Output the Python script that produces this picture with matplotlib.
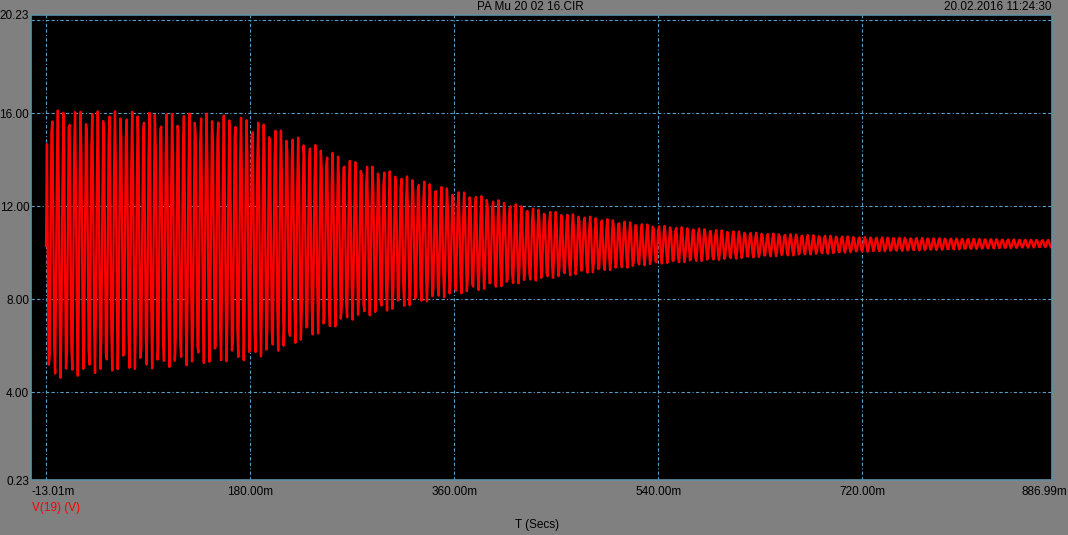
import numpy as np
import matplotlib
matplotlib.use("Agg")
import matplotlib.pyplot as plt

plt.rcParams['font.family'] = ['Liberation Sans', 'DejaVu Sans']

# envelope of the oscillation (t in ms, volts)
t_knots = [0, 10, 48, 136, 180, 206, 268, 360, 436, 533, 630, 718, 887]
upper = [16.1, 16.15, 16.1, 16.0, 15.8, 15.3, 14.0, 12.7, 11.85, 11.2, 10.85, 10.68, 10.55]
lower = [4.7, 4.6, 4.85, 5.2, 5.4, 5.8, 7.1, 8.2, 8.85, 9.5, 9.82, 10.04, 10.25]
period_ms = 5.05
step_ms = 0.8  # simulator time step, gives the coarse look of the trace

xticks = [-13.01, 180.0, 360.0, 540.0, 720.0, 886.99]
xlabels = ["-13.01m", "180.00m", "360.00m", "540.00m", "720.00m", "886.99m"]
yticks = [0.23, 4.0, 8.0, 12.0, 16.0, 20.23]
ylabels = ["0.23", "4.00", "8.00", "12.00", "16.00", "20.23"]
xgrid = [0, 180, 360, 540, 720]
ygrid = [4, 8, 12, 16, 20]

bg = "#808080"
gridc = "#5b9ec4"
spinec = "#5f8fa3"

t = np.arange(0, 887, step_ms)
up = np.interp(t, t_knots, upper)
lo = np.interp(t, t_knots, lower)
mid = (up + lo) / 2
amp = (up - lo) / 2
v = mid + amp * np.sin(2 * np.pi * t / period_ms + 1.3)
v[0] = 10.3

fig = plt.figure(figsize=(10.68, 5.35), dpi=100, facecolor=bg)
ax = fig.add_axes([0.0293, 0.1028, 0.9553, 0.8692])
ax.set_facecolor("black")

for x in xgrid:
    ax.axvline(x, color=gridc, lw=0.8, ls=(0, (3, 2, 3, 2, 1, 2)), zorder=1)
for y in ygrid:
    ax.axhline(y, color=gridc, lw=0.8, ls=(0, (3, 2, 3, 2, 1, 2)), zorder=1)

ax.plot(t, v, color="#ff0000", lw=1.7, zorder=2)

ax.set_xlim(-13.01, 886.99)
ax.set_ylim(0.23, 20.23)
ax.set_xticks(xticks[:-1])
ax.set_xticklabels(xlabels[:-1])
ax.set_yticks(yticks)
ax.set_yticklabels(ylabels)
ax.tick_params(length=0, labelsize=8.5, colors="black", pad=4)
ax.tick_params(axis="y", pad=1.5)
ax.get_xticklabels()[0].set_horizontalalignment("left")
# last x label squeezed against the right edge like the original
ax.annotate(xlabels[-1], xy=(1, 0), xycoords="axes fraction", xytext=(11, -4),
            textcoords="offset points", ha="right", va="top", fontsize=8.5)
for s in ax.spines.values():
    s.set_color(spinec)
    s.set_linewidth(1.2)

fig.text(0.497, 0.998, "PA Mu 20 02 16.CIR", ha="center", va="top", fontsize=8.5)
fig.text(0.985, 0.998, "20.02.2016 11:24:30", ha="right", va="top", fontsize=8.5)
fig.text(0.03, 0.0505, "V(19) (V)", ha="left", va="center", fontsize=8.5, color="#ff0000")
fig.text(0.503, 0.0187, "T (Secs)", ha="center", va="center", fontsize=8.5)

plt.savefig("out.png", dpi=100, facecolor=bg)
